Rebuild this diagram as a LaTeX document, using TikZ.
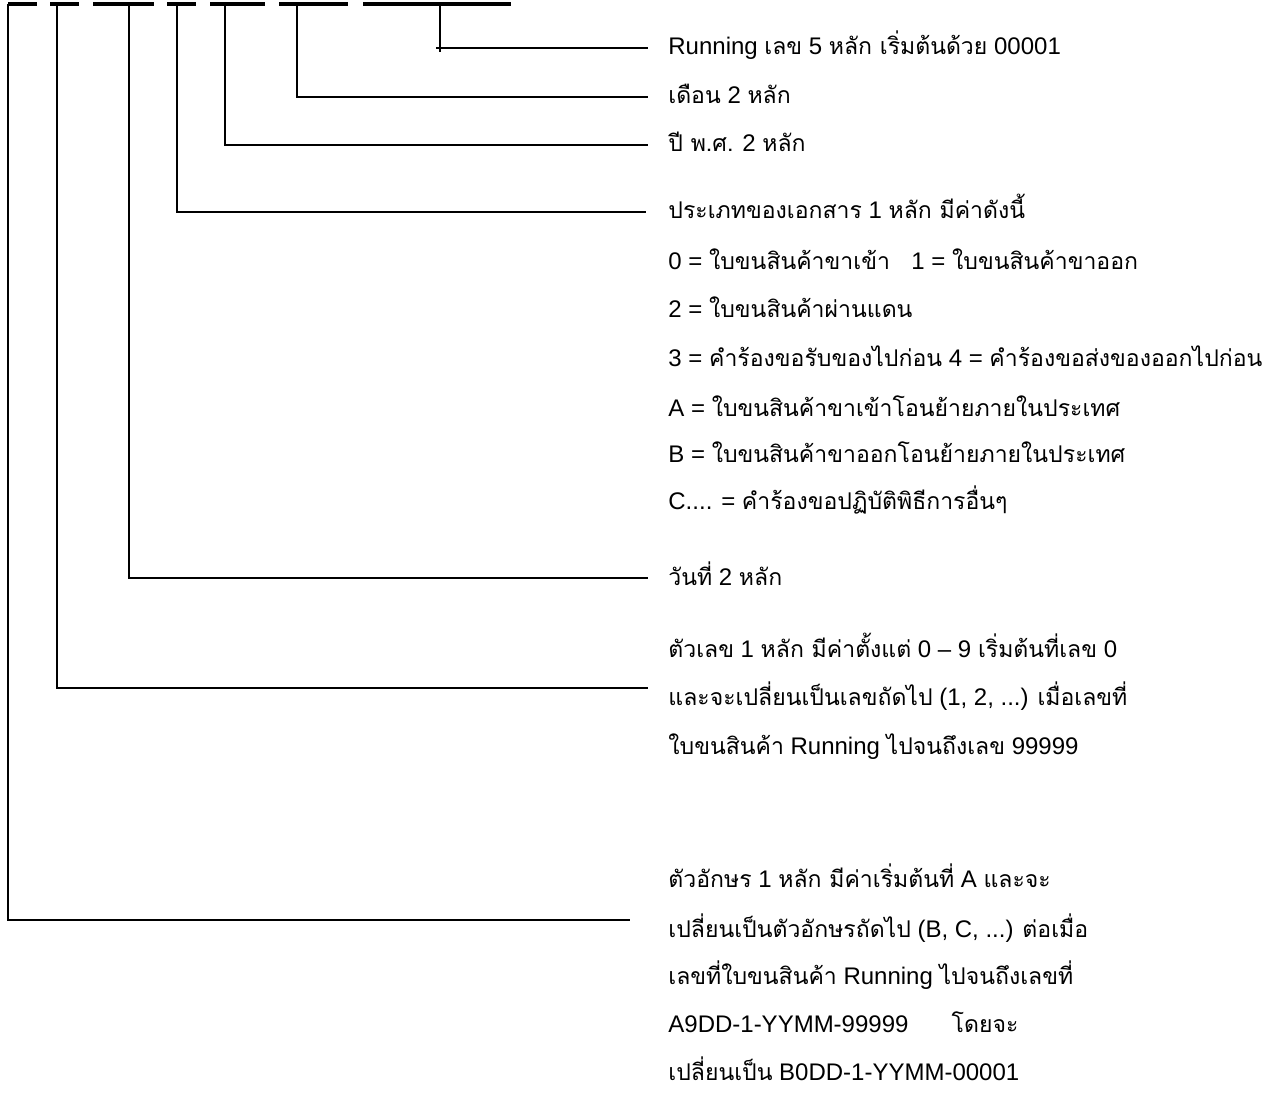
\documentclass[tikz,border=0pt]{standalone}
\usepackage{fontspec}
\setmainfont{Liberation Sans}
\newfontfamily\thaifont[Script=Thai,Scale=0.96]{Loma}
\newcommand\T[1]{{\thaifont #1}}
\begin{document}
\begin{tikzpicture}[x=0.5pt,y=-0.5pt,
  lbl/.style={anchor=base west, inner sep=0pt, font=\fontsize{12}{14}\selectfont},
  dashseg/.style={line width=2pt},
  leader/.style={line width=1.25pt}]
\useasboundingbox (0,0) rectangle (1268,1096);
% dashed field line at the top
\foreach \a/\b in {8/37,50/79,93/154,167/196,210/265,279/348,363/511}
  \draw[dashseg] (\a,4) -- (\b,4);
% start points on the field line
\coordinate (s1) at (440,4);
\coordinate (s2) at (297,4);
\coordinate (s3) at (225,4);
\coordinate (s4) at (177,4);
\coordinate (s5) at (129,4);
\coordinate (s6) at (57,4);
\coordinate (s7) at (8,4);
% end points of the leaders
\coordinate (e1) at (648,48);
\coordinate (e2) at (648,97);
\coordinate (e3) at (648,145);
\coordinate (e4) at (646,212);
\coordinate (e5) at (648,578);
\coordinate (e6) at (648,688);
\coordinate (e7) at (630,920);
% labels
\node[lbl] (t1) at (668,55) {Running \T{เลข} 5 \T{หลัก เริ่มต้นด้วย} 00001};
\node[lbl] (t2) at (668,104) {\T{เดือน} 2 \T{หลัก}};
\node[lbl] (t3) at (668,152) {\T{ปี พ.ศ.} 2 \T{หลัก}};
\node[lbl] (t4) at (668,219) {\T{ประเภทของเอกสาร} 1 \T{หลัก มีค่าดังนี้}};
\node[lbl] (t4a) at (668,270) {0 = \T{ใบขนสินค้าขาเข้า}\hspace{0.9em}1 = \T{ใบขนสินค้าขาออก}};
\node[lbl] (t4b) at (668,318) {2 = \T{ใบขนสินค้าผ่านแดน}};
\node[lbl] (t4c) at (668,366) {3 = \T{คำร้องขอรับของไปก่อน} 4 = \T{คำร้องขอส่งของออกไปก่อน}};
\node[lbl] (t4d) at (668,416) {A = \T{ใบขนสินค้าขาเข้าโอนย้ายภายในประเทศ}};
\node[lbl] (t4e) at (668,462) {B = \T{ใบขนสินค้าขาออกโอนย้ายภายในประเทศ}};
\node[lbl] (t4f) at (668,509) {C.... = \T{คำร้องขอปฏิบัติพิธีการอื่นๆ}};
\node[lbl] (t5) at (668,585) {\T{วันที่} 2 \T{หลัก}};
\node[lbl] (t6) at (668,657) {\T{ตัวเลข} 1 \T{หลัก มีค่าตั้งแต่} 0 – 9 \T{เริ่มต้นที่เลข} 0};
\node[lbl] (t6a) at (668,705) {\T{และจะเปลี่ยนเป็นเลขถัดไป} (1, 2, ...) \T{เมื่อเลขที่}};
\node[lbl] (t6b) at (668,754) {\T{ใบขนสินค้า} Running \T{ไปจนถึงเลข} 99999};
\node[lbl] (t7) at (668,887) {\T{ตัวอักษร} 1 \T{หลัก มีค่าเริ่มต้นที่} A \T{และจะ}};
\node[lbl] (t7a) at (668,937) {\T{เปลี่ยนเป็นตัวอักษรถัดไป} (B, C, ...) \T{ต่อเมื่อ}};
\node[lbl] (t7b) at (668,984) {\T{เลขที่ใบขนสินค้า} Running \T{ไปจนถึงเลขที่}};
\node[lbl] (t7c) at (668,1032) {A9DD-1-YYMM-99999\hspace{1.8em}\T{โดยจะ}};
\node[lbl] (t7d) at (668,1080) {\T{เปลี่ยนเป็น} B0DD-1-YYMM-00001};
% leaders
\draw[leader] (s1) -- ++(0,48) ++(-4,-4) -- (e1);
\draw[leader] (s2) |- (e2);
\draw[leader] (s3) |- (e3);
\draw[leader] (s4) |- (e4);
\draw[leader] (s5) |- (e5);
\draw[leader] (s6) |- (e6);
\draw[leader] (s7) |- (e7);
\end{tikzpicture}
\end{document}
